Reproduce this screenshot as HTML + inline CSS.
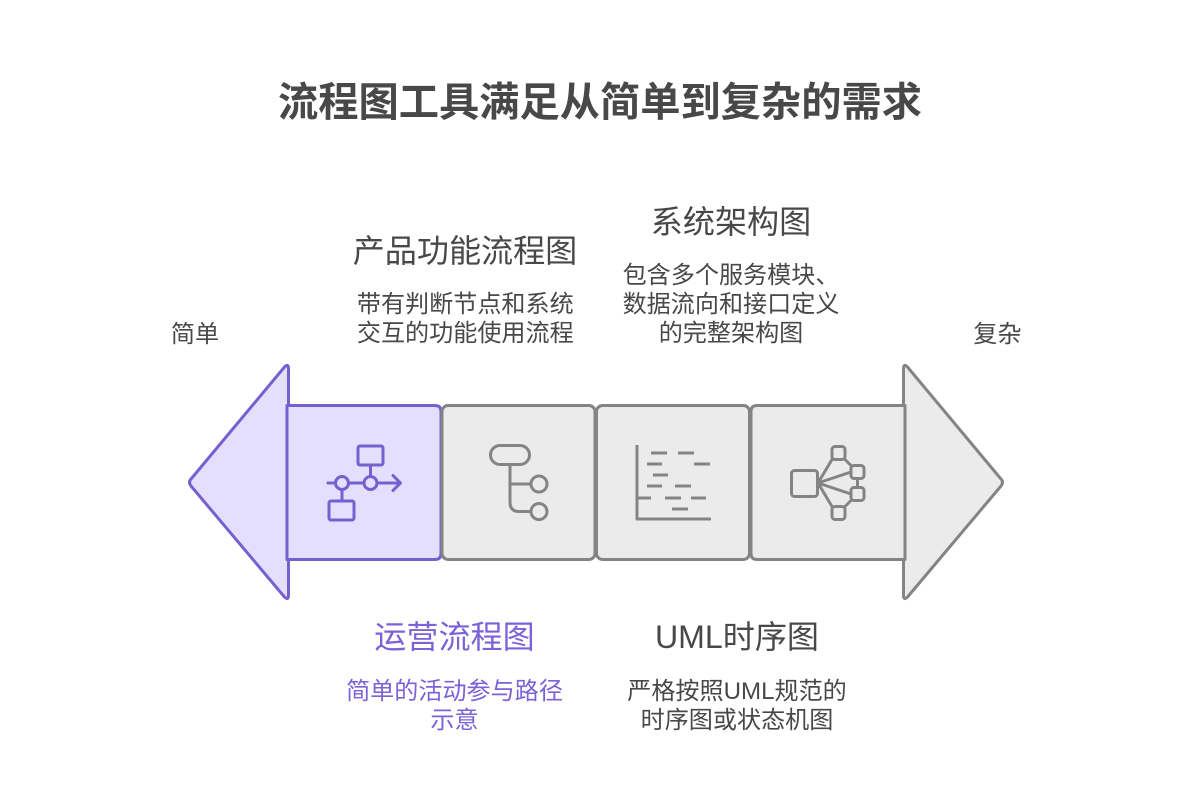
<!DOCTYPE html>
<html><head><meta charset="utf-8"><style>
html,body{margin:0;padding:0;background:#fff}
svg{display:block}
text{font-family:"Liberation Sans","Noto Sans CJK SC",sans-serif;text-anchor:middle;fill:#484848}
.h{font-size:32.100px}.b{font-size:24.100px}.p{fill:#7b62d6}
</style></head><body>
<svg width="1200" height="811" viewBox="0 0 1200 811" xmlns="http://www.w3.org/2000/svg">
<rect width="1200" height="811" fill="#fff"/>
<text x="600" y="116" style="font-size:40.250px;font-weight:700">流程图工具满足从简单到复杂的需求</text>

<text x="465" y="262" class="h">产品功能流程图</text>
<text x="731" y="233" class="h">系统架构图</text>
<text x="465.300" y="312" class="b">带有判断节点和系统</text>
<text x="465.300" y="341" class="b">交互的功能使用流程</text>
<text x="731" y="283" class="b">包含多个服务模块、</text>
<text x="731" y="312" class="b">数据流向和接口定义</text>
<text x="731" y="341" class="b">的完整架构图</text>
<text x="195" y="342" class="b">简单</text>
<text x="997.500" y="342" class="b">复杂</text>
<text x="454.500" y="648" class="h p">运营流程图</text>
<text x="737" y="648" class="h">UML时序图</text>
<text x="454.500" y="699" class="b p">简单的活动参与路径</text>
<text x="454.500" y="728" class="b p">示意</text>
<text x="737" y="699" class="b">严格按照UML规范的</text>
<text x="737" y="728" class="b">时序图或状态机图</text>

<g stroke-width="3" stroke-linejoin="round" stroke-linecap="round">
<path d="M288.500 369Q288.500 363 284.500 367L191 479Q188 482 191 486L284.500 597Q288.500 601 288.500 595Z" fill="#e3dffc" stroke="#7660d0"/>
<path d="M287 405.500H435Q441 405.500 441 411.500V553.500Q441 559.500 435 559.500H287Z" fill="#e3dffc" stroke="#7660d0"/>

<path d="M903.500 369Q903.500 363 907.500 367L1001 479Q1004 482 1001 486L907.500 597Q903.500 601 903.500 595Z" fill="#ebebeb" stroke="#848484"/>
<rect x="442" y="405.500" width="153" height="154" rx="6" fill="#ebebeb" stroke="#848484"/>
<rect x="596.500" y="405.500" width="153" height="154" rx="6" fill="#ebebeb" stroke="#848484"/>
<path d="M905 405.500H757Q751 405.500 751 411.500V553.500Q751 559.500 757 559.500H905Z" fill="#ebebeb" stroke="#848484"/>

<g fill="none" stroke="#7660d0">
<rect x="358" y="446" width="25" height="19" rx="2"/>
<rect x="329" y="501" width="25" height="19" rx="2"/>
<circle cx="342" cy="483" r="6.500"/>
<circle cx="370.500" cy="483" r="6.500"/>
<path d="M328 483H335.500M348.500 483H364M377 483H400M393 475.500L400.500 483L393 490.500M370.500 465V476.500M342 489.500V501"/>
</g>

<g fill="none" stroke="#848484">
<rect x="490.500" y="445.500" width="39" height="19" rx="9.500"/>
<circle cx="539" cy="484" r="8"/>
<circle cx="539" cy="511.500" r="8"/>
<path d="M510 465V502Q510 511.500 519 511.500H531M510 484H531"/>
</g>

<g fill="none" stroke="#848484" stroke-linecap="butt">
<path d="M637 445V519H711"/>
<path d="M651 453H667M678 453H694M647 464H662M694 464H710M653 475H668M647 486H662M675 486H691M637 498H651M665 498H681M691 498H706M672 509H688"/>
</g>

<g fill="none" stroke="#848484">
<rect x="791.500" y="470.500" width="26" height="26" rx="3"/>
<rect x="832" y="446.500" width="13" height="13" rx="3"/>
<rect x="851" y="465.500" width="13" height="13" rx="3"/>
<rect x="851" y="487.500" width="13" height="13" rx="3"/>
<rect x="832" y="506.500" width="13" height="13" rx="3"/>
<path d="M818 483L832 459.500M845 459.500L851 465.500M818 483L851 472M818 483L851 494M818 483L832 506.500M845 506.500L851 500.500M857.500 478.500V487.500"/>
</g>
</g>
</svg>
</body></html>
